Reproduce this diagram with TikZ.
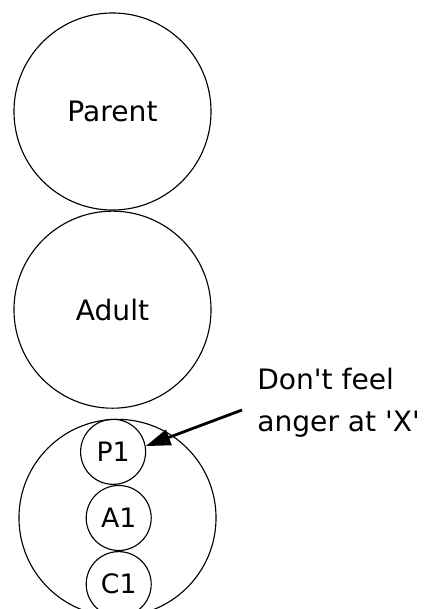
\documentclass[tikz,border=0pt]{standalone}
\usepackage{fontspec}
\setmainfont{DejaVu Sans}
\usepackage{tikz}
\usetikzlibrary{positioning, arrows.meta}

\begin{document}
\begin{tikzpicture}[
    x=0.025cm, y=-0.025cm,
    node distance = 0pt,
    state/.style = {circle, draw=black, line width=0.8pt, fill=none, minimum size=4.925cm, inner sep=0pt, font=\fontsize{20}{24}\selectfont},
    substate/.style = {circle, draw=black, line width=0.8pt, fill=none, minimum size=1.625cm, inner sep=0pt, font=\fontsize{19}{23}\selectfont},
    note/.style = {align=left, inner sep=0pt, font=\fontsize{20}{30}\selectfont}
]
    \clip (0,0) rectangle (441,609);

    % 1. Ego states
    \node [state] (parent) at (112.5,111.5) {Parent};
    \node [state, below=0pt of parent] (adult) {Adult};
    \node [state, below=0.25cm of adult, xshift=0.125cm] (child) {};

    % 2. Inner states of the child
    \node [substate, below=0pt of child.north, xshift=-0.11cm] (p1) {P1};
    \node [substate, below=0pt of p1, xshift=0.14cm] (a1) {A1};
    \node [substate, below=0pt of a1] (c1) {C1};

    % 3. Annotation
    \node [note, anchor=west] (feel) at (257,403) {Don\textquotesingle t feel\\anger at \textquotesingle X\textquotesingle};
    \draw [-{Triangle[length=0.62cm, width=0.4cm]}, line width=2pt] ([xshift=-0.375cm, yshift=-0.175cm]feel.west) -- (p1.10);

\end{tikzpicture}
\end{document}
